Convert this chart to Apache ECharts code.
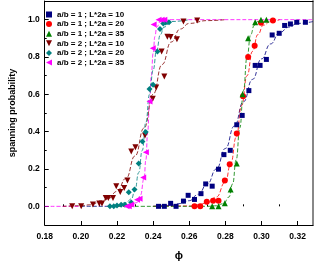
<!DOCTYPE html>
<html><head><meta charset="utf-8">
<script src="https://cdn.jsdelivr.net/npm/echarts@6/dist/echarts.min.js"></script>
<style>html,body{margin:0;padding:0;background:#fff}#c{width:316px;height:266px}</style>
</head><body><div id="c"></div>
<script>
// ---- data ----
const seriesNames = ['a/b = 1 ; L*2a = 10','a/b = 1 ; L*2a = 20','a/b = 1 ; L*2a = 35','a/b = 2 ; L*2a = 10','a/b = 2 ; L*2a = 20','a/b = 2 ; L*2a = 35'];
const phiTicks = [0.18,0.20,0.22,0.24,0.26,0.28,0.30,0.32];
const phiMinor = [0.19,0.21,0.23,0.25,0.27,0.29,0.31];
const probTicks = [0.0,0.2,0.4,0.6,0.8,1.0];
const probMinor = [0.1,0.3,0.5,0.7,0.9];

// measured points
const ab1L10 = [[0.2430,0.0],[0.2462,0.0],[0.2497,0.016],[0.2527,0.0],[0.2568,0.028],[0.2594,0.059],[0.2629,0.037],[0.2665,0.068],[0.2691,0.120],[0.2727,0.108],[0.2762,0.199],[0.2792,0.277],[0.2827,0.300],[0.2863,0.437],[0.2893,0.487],[0.2930,0.620],[0.2965,0.755],[0.2992,0.755],[0.3027,0.787],[0.3059,0.918],[0.3098,0.927],[0.3128,0.969],[0.3160,0.977],[0.3195,0.986],[0.3243,0.986]];
const ab1L20 = [[0.2629,0.0],[0.2661,0.0],[0.2697,0.025],[0.2732,0.030],[0.2762,0.030],[0.2797,0.138],[0.2824,0.225],[0.2863,0.390],[0.2898,0.590],[0.2926,0.800],[0.2962,0.860],[0.2997,0.983],[0.3063,0.996]];
const ab1L35 = [[0.2727,0.0],[0.2762,0.0],[0.2797,0.016],[0.2829,0.090],[0.2863,0.230],[0.2895,0.600],[0.2926,0.900],[0.2965,0.986],[0.2997,1.0],[0.3027,1.0]];
const ab2L10 = [[0.1952,0.0],[0.2002,0.0],[0.2067,0.010],[0.2102,0.015],[0.2117,0.015],[0.2138,0.045],[0.2152,0.045],[0.2178,0.045],[0.2196,0.108],[0.2218,0.077],[0.2240,0.098],[0.2258,0.138],[0.2279,0.294],[0.2302,0.317],[0.2355,0.380],[0.2398,0.576],[0.2417,0.637],[0.2447,0.829],[0.2462,0.695],[0.2479,0.909],[0.2497,0.907],[0.2532,0.895],[0.2568,0.990],[0.2644,0.996]];
const ab2L20 = [[0.2161,0.0],[0.2182,0.0],[0.2200,0.005],[0.2223,0.008],[0.2244,0.008],[0.2265,0.075],[0.2279,0.020],[0.2297,0.090],[0.2320,0.229],[0.2341,0.347],[0.2359,0.398],[0.2380,0.628],[0.2400,0.651],[0.2424,0.829],[0.2438,0.950],[0.2456,0.979],[0.2470,0.985],[0.2488,0.986]];
const ab2L35 = [[0.2253,0.0],[0.2265,0.0],[0.2279,0.010],[0.2311,0.035],[0.2325,0.040],[0.2345,0.155],[0.2360,0.290],[0.2380,0.562],[0.2398,0.847],[0.2403,0.974],[0.2430,1.0],[0.2447,1.0],[0.2462,1.0]];

// dashed fitted curves
const fit1L10 = [[0.24,0.0],[0.25,0.005],[0.255,0.015],[0.26,0.03],[0.265,0.065],[0.27,0.12],[0.275,0.20],[0.28,0.31],[0.285,0.43],[0.29,0.56],[0.295,0.68],[0.30,0.79],[0.305,0.87],[0.31,0.93],[0.315,0.96],[0.32,0.98],[0.3285,0.99]];
const fit1L20 = [[0.24,0.0],[0.26,0.002],[0.265,0.008],[0.27,0.02],[0.275,0.05],[0.28,0.13],[0.283,0.23],[0.286,0.37],[0.289,0.54],[0.292,0.70],[0.295,0.83],[0.298,0.92],[0.301,0.97],[0.305,0.99],[0.31,1.0]];
const fit1L35 = [[0.22,0.0],[0.27,0.0],[0.275,0.003],[0.279,0.015],[0.282,0.05],[0.284,0.12],[0.286,0.25],[0.288,0.42],[0.290,0.62],[0.292,0.80],[0.294,0.92],[0.296,0.97],[0.298,0.99],[0.30,1.0]];
const fit2L10 = [[0.19,0.0],[0.20,0.003],[0.205,0.008],[0.21,0.02],[0.215,0.04],[0.22,0.08],[0.225,0.15],[0.23,0.27],[0.235,0.42],[0.24,0.60],[0.245,0.76],[0.25,0.88],[0.255,0.95],[0.26,0.98],[0.27,0.995],[0.28,1.0]];
const fit2L20 = [[0.20,0.0],[0.215,0.0],[0.22,0.005],[0.225,0.02],[0.228,0.04],[0.23,0.09],[0.232,0.18],[0.234,0.30],[0.236,0.45],[0.238,0.60],[0.240,0.73],[0.242,0.84],[0.244,0.92],[0.246,0.96],[0.25,0.99],[0.26,1.0]];
const fit2L35 = [[0.18,0.0],[0.225,0.0],[0.228,0.005],[0.231,0.02],[0.233,0.06],[0.235,0.15],[0.236,0.25],[0.237,0.40],[0.238,0.55],[0.239,0.70],[0.240,0.82],[0.241,0.91],[0.242,0.96],[0.244,0.99],[0.25,1.0],[0.3285,1.0]];

// ---- styling ----
const colors = ['#000080','#ff0000','#008000','#800000','#008080','#ff00ff'];
const symbols = ['rect','circle','triangle','path://M0,0L10,0L5,10Z','diamond','path://M0,5L10,0L10,10Z'];
const sizes = [5,6,6,6,6,6];
const pts = [ab1L10,ab1L20,ab1L35,ab2L10,ab2L20,ab2L35];
const fits = [fit1L10,fit1L20,fit1L35,fit2L10,fit2L20,fit2L35];
const fitZ = [3,3,4,3,3,2];
const font = 'Liberation Sans, Arial, sans-serif';

const series = [];
fits.forEach((f,i)=>{
  series.push({type:'line', name:'fit'+i, data:f, showSymbol:false, smooth:true, smoothMonotone:'x',
    lineStyle:{color:colors[i], width:1, type:[4,2], opacity:0.8}, z:fitZ[i], silent:true});
});
pts.forEach((p,i)=>{
  series.push({type:'scatter', name:seriesNames[i], data:p, symbol:symbols[i], symbolSize:sizes[i],
    itemStyle:{color:colors[i], opacity:1}, z:10});
});

const plainAxis = (pos, min, max, extra) => Object.assign({type:'value', min:min, max:max, position:pos,
  axisLine:{show:false}, axisTick:{show:false}, axisLabel:{show:false}, splitLine:{show:false}}, extra||{});

const chart = echarts.init(document.getElementById('c'), null, {renderer:'canvas'});
chart.setOption({
  animation:false,
  backgroundColor:'#fff',
  textStyle:{fontFamily:font},
  grid:{left:33, right:3, top:1, bottom:36, containLabel:false},
  legend:{data:seriesNames, orient:'vertical', left:46, top:10, itemWidth:6, itemHeight:6, itemGap:0.6,
    padding:0, textStyle:{fontSize:8, fontWeight:'bold', color:'#000', fontFamily:font, lineHeight:9}},
  xAxis:[{type:'value', min:0.18, max:0.3285, position:'bottom',
     axisLine:{show:true, onZero:false, lineStyle:{color:'#000', width:1}},
     axisTick:{show:true, inside:true, length:4, customValues:phiTicks, lineStyle:{color:'#000'}},
     axisLabel:{customValues:phiTicks, formatter:v=>v.toFixed(2), fontSize:8.5, fontWeight:'bold', color:'#000', margin:7},
     splitLine:{show:false},
     name:'ϕ', nameLocation:'middle', nameGap:25, nameTextStyle:{fontSize:11, fontWeight:'bold', color:'#000'}},
    {type:'value', min:0.18, max:0.3285, position:'top',
     axisLine:{show:true, onZero:false, lineStyle:{color:'#000', width:1}},
     axisTick:{show:false}, axisLabel:{show:false}, splitLine:{show:false}},
    plainAxis('bottom',0.18,0.3285,{axisTick:{show:true, inside:true, length:2, customValues:phiMinor, lineStyle:{color:'#000'}}})],
  yAxis:[{type:'value', min:-0.1, max:1.1, position:'left',
     axisLine:{show:true, onZero:false, lineStyle:{color:'#000', width:1}},
     axisTick:{show:true, inside:true, length:4, customValues:probTicks, lineStyle:{color:'#000'}},
     axisLabel:{customValues:probTicks, formatter:v=>v.toFixed(1), fontSize:8.5, fontWeight:'bold', color:'#000', margin:5},
     splitLine:{show:false},
     name:'spanning probability', nameLocation:'middle', nameGap:24, nameRotate:90,
     nameTextStyle:{fontSize:9, fontWeight:'bold', color:'#000'}},
    {type:'value', min:-0.1, max:1.1, position:'right',
     axisLine:{show:true, onZero:false, lineStyle:{color:'#888', width:2}},
     axisTick:{show:false}, axisLabel:{show:false}, splitLine:{show:false}},
    plainAxis('left',-0.1,1.1,{axisTick:{show:true, inside:true, length:2, customValues:probMinor, lineStyle:{color:'#000'}}})],
  series: series
});
</script></body></html>
